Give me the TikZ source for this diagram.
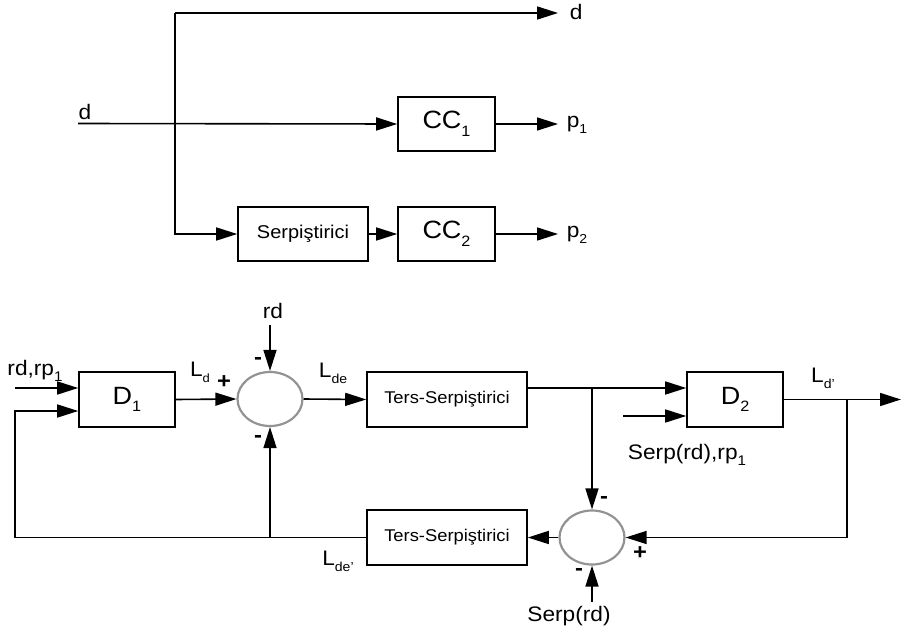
\documentclass[tikz,border=0pt]{standalone}
\usepackage{fontspec}
\setmainfont{Liberation Sans}[FakeStretch=1.08]
\usetikzlibrary{arrows.meta,shapes.geometric,calc}
\newcommand\sbs[2]{\raisebox{-0.3em}{\fontsize{#1}{#1}\selectfont #2}}
\begin{document}
\begin{tikzpicture}[x=1pt,y=-1pt,line width=1.6pt,
  arr/.style={-{Triangle[length=21pt,width=13pt]}},
  blk/.style={draw,line width=1.6pt,minimum width=#1,minimum height=55pt,inner sep=0pt},
  blk/.default=97pt,
  big/.style={font=\fontsize{25}{28}\selectfont},
  small/.style={font=\fontsize{17}{20}\selectfont},
  lbl/.style={font=\fontsize{21}{25}\selectfont,inner sep=0pt},
  tlbl/.style={font=\fontsize{21}{24}\selectfont,inner sep=0pt},
  sgn/.style={font=\fontsize{22}{24}\selectfont\bfseries,inner sep=0pt},
  sumj/.style={draw=gray!85,line width=2.2pt,ellipse,minimum width=65pt,minimum height=54pt,inner sep=0pt}]
\useasboundingbox (0,0) rectangle (902,634);
% ---------- top part ----------
\node[blk,minimum height=54pt,big] (CC1) at (446.5,124) {CC\sbs{15}{1}};
\node[blk,minimum height=54pt,big] (CC2) at (446.5,234) {CC\sbs{15}{2}};
\node[blk=130pt,minimum height=54pt,font=\fontsize{18.5}{22}\selectfont] (Serp) at (303,234) {Serpiştirici};
\coordinate (din) at (78,123.5);
\coordinate (tl) at (175,13);
\coordinate (dout) at (558,13);
\coordinate (p1o) at (558,124);
\coordinate (p2o) at (558,234);
\draw[arr] (din) -- (CC1.west);
\draw[arr] (tl) -- (dout);
\draw[arr] (tl) |- (Serp.west);
\draw[arr] (Serp.east) -- (CC2.west);
\draw[arr] (CC1.east) -- (p1o);
\draw[arr] (CC2.east) -- (p2o);
\node[tlbl] (ld) at (85,112) {d};
\node[tlbl,anchor=west] (ldo) at (569,12) {d};
\node[tlbl,anchor=west] (lp1) at (566,125) {p\sbs{13}{1}};
\node[tlbl,anchor=west] (lp2) at (566,235) {p\sbs{13}{2}};
% ---------- bottom part ----------
\node[blk=96pt,big] (D1) at (127,399.5) {D\sbs{15}{1}};
\node[blk=160pt,small] (T1) at (447,399.5) {Ters-Serpiştirici};
\node[blk=160pt,small] (T2) at (447,537.5) {Ters-Serpiştirici};
\node[blk=96pt,big] (D2) at (735,399.5) {D\sbs{15}{2}};
\node[sumj] (S1) at (270,399) {};
\node[sumj] (S2) at (592,537.5) {};
% inputs of D1
\coordinate (in1) at (15,388);
\coordinate (fbl) at (15,537.5);
\draw[arr] (in1) -- (in1 -| D1.west);
\draw[arr] (T2.west) -- (fbl) |- ($(D1.west)+(0,11.5)$);
\coordinate (j1) at (S1.south |- T2.west);
\draw[arr] (j1) -- (S1.south);
\coordinate (rdtop) at (270,325);
\draw[arr] (rdtop) -- (S1.north);
\draw[arr] (D1.east) -- (S1.west);
\draw[arr] (S1.east) -- (T1.west);
% D2 side
\draw[arr] ($(T1.east)+(0,-11.5)$) -- ($(D2.west)+(0,-11.5)$);
\coordinate (j2) at (592,388);
\draw[arr] (j2) -- (S2.north);
\coordinate (in2) at (623,416);
\draw[arr] (in2) -- (in2 -| D2.west);
\coordinate (out) at (901,399.5);
\coordinate (j3) at (847,399.5);
\draw[arr] (D2.east) -- (out);
\draw[arr] (j3) |- (S2.east);
\draw[arr] (S2.west) -- (T2.east);
\coordinate (sb) at (592,602);
\draw[arr] (sb) -- (S2.south);
% labels
\node[lbl] (lrdrp) at (35,371) {rd,rp\sbs{14}{1}};
\node[lbl] (lrd) at (273,311) {rd};
\node[lbl] (lLd) at (200,372) {L\sbs{12}{d}};
\node[lbl] (lLde) at (333,373) {L\sbs{13}{de}};
\node[lbl] (lLdep) at (338,561) {L\sbs{13}{de’}};
\node[lbl] (lLdp) at (823,378) {L\sbs{13}{d’}};
\node[lbl] (lserprp) at (687,455) {Serp(rd),rp\sbs{14}{1}};
\node[lbl] (lserp) at (569,616) {Serp(rd)};
\node[sgn] (s1p) at (224,382) {+};
\node[sgn] (s1t) at (258,361) {-};
\node[sgn] (s1b) at (258,439) {-};
\node[sgn] (s2t) at (604,500) {-};
\node[sgn] (s2p) at (640,553) {+};
\node[sgn] (s2b) at (579,572) {-};
\end{tikzpicture}
\end{document}
